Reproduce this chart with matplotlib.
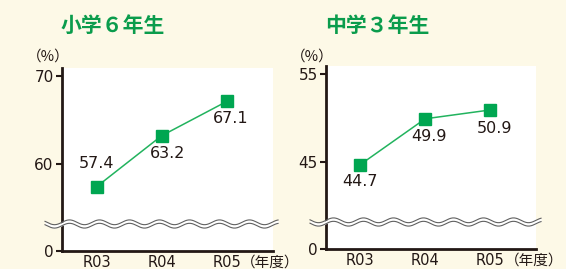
import numpy as np
import matplotlib.pyplot as plt

plt.rcParams['font.family'] = ['DejaVu Sans', 'Noto Sans CJK JP']

years = ["R03", "R04", "R05"]
elem_values = [57.4, 63.2, 67.1]
junior_values = [44.7, 49.9, 50.9]
elem_ticks = [0, 60, 70]
junior_ticks = [0, 45, 55]

BG = "#fdf9e7"
GREEN = "#00a651"
LINE_GREEN = "#22b35e"
DARK = "#231815"
CJK = ['Noto Sans CJK JP', 'DejaVu Sans']

W, H = 566.0, 269.0


def break_scale(lo, zero_at):
    # squeeze 0..lo into a short band so the axis keeps the 0 tick
    k = (lo - zero_at) / lo

    def fwd(y):
        y = np.asarray(y, dtype=float)
        return np.where(y >= lo, y, zero_at + y * k)

    def inv(u):
        u = np.asarray(u, dtype=float)
        return np.where(u >= lo, u, (u - zero_at) / k)

    return fwd, inv


def draw_wave(ax, y_frac, x0, x1):
    pos = ax.get_position()
    width_px = pos.width * W
    height_px = pos.height * H
    xs = np.linspace(x0, x1, 400)
    amp = 2.4 / height_px
    gap = 3.4 / height_px
    phase = 2 * np.pi * xs * width_px / 30.0
    top = y_frac + gap / 2 + amp * np.sin(phase)
    bot = y_frac - gap / 2 + amp * np.sin(phase)
    ax.fill_between(xs, bot, top, color="white", transform=ax.transAxes,
                    clip_on=False, zorder=6, lw=0)
    for ys in (top, bot):
        ax.plot(xs, ys, color="#606060", lw=0.8, transform=ax.transAxes,
                clip_on=False, zorder=7)


def draw_panel(ax, title, values, ticks, lo, zero_at, top, label_offsets,
               title_xy, pct_xy):
    fwd, inv = break_scale(lo, zero_at)
    ax.set_yscale("function", functions=(fwd, inv))
    ax.set_facecolor("white")
    x = np.arange(len(years))
    ax.plot(x, values, color=LINE_GREEN, lw=1.1, zorder=3)
    ax.plot(x, values, "s", color=GREEN, ms=8.5, zorder=4)
    for xi, v, off in zip(x, values, label_offsets):
        ax.annotate(f"{v:.1f}", (xi, v), xytext=off, textcoords="offset points",
                    ha="center", va="center", fontsize=11.5, color=DARK)
    ax.set_xlim(-0.53, 2.71)
    ax.set_ylim(0, top)
    ax.set_yticks(ticks)
    ax.set_yticklabels([str(t) for t in ticks])
    ax.set_xticks(x)
    ax.set_xticklabels(years)
    ax.tick_params(axis="y", direction="out", length=4, width=1.5, color=DARK,
                   labelsize=11, labelcolor=DARK, pad=2)
    ax.tick_params(axis="x", length=0, labelsize=10.5, labelcolor=DARK, pad=3)
    for s in ("top", "right"):
        ax.spines[s].set_visible(False)
    for s in ("left", "bottom"):
        ax.spines[s].set_color(DARK)
        ax.spines[s].set_linewidth(2)
    fig = ax.figure
    fig.text(title_xy[0] / W, 1 - title_xy[1] / H, title, family=CJK,
             fontsize=15, fontweight="bold", color="#0a9c4c",
             ha="left", va="center")
    fig.text(pct_xy[0] / W, 1 - pct_xy[1] / H, "（%）", family=CJK,
             fontsize=10.5, color=DARK, ha="center", va="center")
    ax.text(0.85, -0.062, "（年度）", transform=ax.transAxes, family=CJK,
            fontsize=10.5, color=DARK, ha="left", va="center")


fig = plt.figure(figsize=(W / 100, H / 100), dpi=100)
fig.patch.set_facecolor(BG)

ax1 = fig.add_axes([62 / W, 1 - 251 / H, 211 / W, 183 / H])
ax2 = fig.add_axes([326 / W, 1 - 249 / H, 210 / W, 183 / H])

draw_panel(ax1, "小学６年生", elem_values, elem_ticks, 52, 50.1, 70.9,
           [(0, 17), (4, -13), (3, -12)], (61, 25), (48, 57))
draw_panel(ax2, "中学３年生", junior_values, junior_ticks, 37, 35.1, 55.9,
           [(0, -12), (3, -13), (3, -13)], (325, 25), (312, 57))

draw_wave(ax1, 27 / 183, -17 / 211, 1.024)
draw_wave(ax2, 27 / 183, -16 / 210, 1.024)

fig.savefig("out.png", dpi=100, facecolor=BG)
